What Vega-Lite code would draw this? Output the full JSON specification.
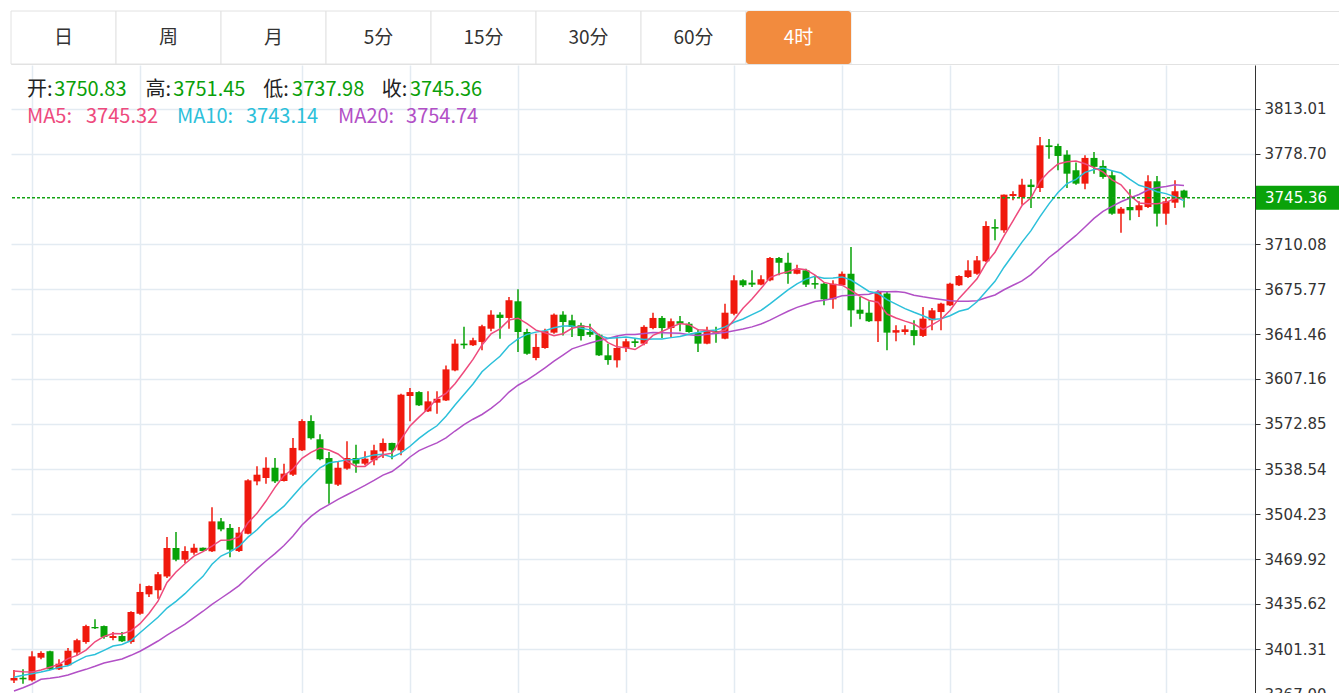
{
"$schema": "https://vega.github.io/schema/vega-lite/v6.json",
"background": "#ffffff",
"padding": {"left": 10, "top": 10, "right": 0, "bottom": 0},
"spacing": 0,
"config": {"view": {"stroke": null}},
"datasets": {
"k": [
{"i":0,"o":3377.3,"h":3385.3,"l":3375.4,"c":3379.2,"m5":3384.5,"m10":3379.7,"m20":3369.3},
{"i":1,"o":3379.4,"h":3385.8,"l":3374.8,"c":3378.2,"m5":3384.0,"m10":3381.3,"m20":3371.8},
{"i":2,"o":3377.4,"h":3399.6,"l":3376.6,"c":3395.7,"m5":3383.8,"m10":3382.5,"m20":3374.6},
{"i":3,"o":3394.7,"h":3399.6,"l":3393.5,"c":3398.3,"m5":3385.3,"m10":3383.8,"m20":3378.2},
{"i":4,"o":3399.6,"h":3400.0,"l":3385.3,"c":3385.8,"m5":3387.4,"m10":3385.3,"m20":3379.0},
{"i":5,"o":3385.8,"h":3393.5,"l":3385.3,"c":3390.1,"m5":3389.6,"m10":3387.3,"m20":3380.0},
{"i":6,"o":3388.9,"h":3402.1,"l":3388.3,"c":3400.0,"m5":3394.0,"m10":3388.6,"m20":3381.5},
{"i":7,"o":3398.6,"h":3409.2,"l":3396.6,"c":3408.0,"m5":3396.4,"m10":3392.2,"m20":3383.8},
{"i":8,"o":3406.6,"h":3419.8,"l":3405.3,"c":3418.8,"m5":3400.5,"m10":3395.7,"m20":3385.8},
{"i":9,"o":3418.1,"h":3424.0,"l":3416.5,"c":3417.1,"m5":3406.8,"m10":3397.1,"m20":3388.1},
{"i":10,"o":3418.8,"h":3419.3,"l":3409.2,"c":3410.5,"m5":3410.9,"m10":3400.3,"m20":3390.6},
{"i":11,"o":3409.7,"h":3414.3,"l":3408.0,"c":3411.2,"m5":3413.1,"m10":3403.6,"m20":3392.2},
{"i":12,"o":3411.2,"h":3414.3,"l":3406.6,"c":3407.2,"m5":3413.0,"m10":3404.7,"m20":3393.7},
{"i":13,"o":3406.6,"h":3430.0,"l":3405.3,"c":3429.5,"m5":3415.1,"m10":3407.8,"m20":3396.5},
{"i":14,"o":3428.2,"h":3451.1,"l":3427.5,"c":3444.8,"m5":3420.6,"m10":3413.7,"m20":3399.6},
{"i":15,"o":3443.0,"h":3449.8,"l":3441.0,"c":3449.3,"m5":3428.4,"m10":3419.6,"m20":3403.4},
{"i":16,"o":3446.1,"h":3460.0,"l":3439.7,"c":3458.3,"m5":3437.8,"m10":3425.5,"m20":3407.4},
{"i":17,"o":3456.6,"h":3486.7,"l":3455.4,"c":3478.3,"m5":3452.0,"m10":3432.5,"m20":3411.8},
{"i":18,"o":3478.3,"h":3490.5,"l":3468.2,"c":3469.4,"m5":3460.0,"m10":3437.6,"m20":3416.0},
{"i":19,"o":3469.4,"h":3479.6,"l":3466.9,"c":3476.0,"m5":3466.3,"m10":3443.5,"m20":3420.3},
{"i":20,"o":3474.7,"h":3481.6,"l":3473.2,"c":3478.5,"m5":3472.1,"m10":3450.3,"m20":3425.3},
{"i":21,"o":3478.5,"h":3478.6,"l":3475.8,"c":3476.0,"m5":3475.6,"m10":3456.7,"m20":3430.1},
{"i":22,"o":3475.8,"h":3509.3,"l":3475.3,"c":3498.6,"m5":3479.7,"m10":3465.9,"m20":3435.3},
{"i":23,"o":3498.6,"h":3501.2,"l":3491.0,"c":3492.5,"m5":3484.3,"m10":3472.2,"m20":3440.0},
{"i":24,"o":3493.6,"h":3496.6,"l":3471.2,"c":3477.0,"m5":3484.5,"m10":3475.4,"m20":3444.6},
{"i":25,"o":3476.0,"h":3494.3,"l":3475.3,"c":3490.0,"m5":3486.8,"m10":3479.5,"m20":3449.6},
{"i":26,"o":3489.2,"h":3530.7,"l":3488.8,"c":3529.9,"m5":3497.6,"m10":3486.6,"m20":3456.0},
{"i":27,"o":3529.1,"h":3540.6,"l":3526.1,"c":3534.2,"m5":3504.7,"m10":3492.2,"m20":3462.4},
{"i":28,"o":3531.7,"h":3547.5,"l":3527.3,"c":3539.5,"m5":3514.1,"m10":3499.2,"m20":3468.4},
{"i":29,"o":3539.5,"h":3546.9,"l":3527.9,"c":3529.1,"m5":3524.5,"m10":3504.5,"m20":3474.0},
{"i":30,"o":3529.4,"h":3542.6,"l":3529.0,"c":3535.0,"m5":3533.5,"m10":3510.2,"m20":3480.2},
{"i":31,"o":3534.2,"h":3562.2,"l":3533.2,"c":3554.6,"m5":3538.5,"m10":3518.0,"m20":3487.4},
{"i":32,"o":3552.8,"h":3576.4,"l":3552.3,"c":3575.1,"m5":3546.7,"m10":3525.7,"m20":3495.8},
{"i":33,"o":3575.1,"h":3579.5,"l":3561.0,"c":3562.0,"m5":3551.2,"m10":3532.6,"m20":3502.4},
{"i":34,"o":3561.2,"h":3565.0,"l":3545.2,"c":3546.0,"m5":3554.5,"m10":3539.5,"m20":3507.5},
{"i":35,"o":3546.9,"h":3551.5,"l":3512.1,"c":3527.3,"m5":3553.0,"m10":3543.3,"m20":3511.4},
{"i":36,"o":3526.6,"h":3543.9,"l":3525.6,"c":3539.5,"m5":3550.0,"m10":3544.2,"m20":3515.4},
{"i":37,"o":3538.8,"h":3559.7,"l":3538.0,"c":3546.9,"m5":3544.3,"m10":3545.5,"m20":3518.9},
{"i":38,"o":3546.9,"h":3557.1,"l":3535.7,"c":3542.6,"m5":3540.5,"m10":3545.8,"m20":3522.5},
{"i":39,"o":3542.6,"h":3552.0,"l":3541.4,"c":3546.4,"m5":3540.5,"m10":3547.5,"m20":3526.0},
{"i":40,"o":3545.2,"h":3557.1,"l":3541.4,"c":3552.8,"m5":3545.6,"m10":3549.3,"m20":3529.8},
{"i":41,"o":3552.0,"h":3561.7,"l":3546.9,"c":3558.4,"m5":3549.4,"m10":3549.7,"m20":3533.9},
{"i":42,"o":3558.4,"h":3558.6,"l":3545.9,"c":3552.8,"m5":3550.6,"m10":3547.5,"m20":3536.6},
{"i":43,"o":3552.8,"h":3596.0,"l":3549.0,"c":3595.2,"m5":3561.1,"m10":3550.8,"m20":3541.7},
{"i":44,"o":3594.2,"h":3600.3,"l":3574.9,"c":3597.2,"m5":3571.3,"m10":3555.9,"m20":3547.7},
{"i":45,"o":3597.2,"h":3597.8,"l":3586.6,"c":3587.1,"m5":3578.1,"m10":3561.9,"m20":3552.6},
{"i":46,"o":3582.5,"h":3597.8,"l":3582.0,"c":3590.1,"m5":3584.5,"m10":3567.0,"m20":3555.6},
{"i":47,"o":3589.1,"h":3597.8,"l":3580.7,"c":3592.1,"m5":3592.3,"m10":3571.5,"m20":3558.5},
{"i":48,"o":3590.8,"h":3617.5,"l":3590.4,"c":3614.5,"m5":3596.2,"m10":3578.7,"m20":3562.2},
{"i":49,"o":3613.7,"h":3637.4,"l":3613.0,"c":3634.1,"m5":3603.6,"m10":3587.4,"m20":3567.5},
{"i":50,"o":3634.1,"h":3646.9,"l":3630.3,"c":3632.9,"m5":3612.7,"m10":3595.4,"m20":3572.4},
{"i":51,"o":3632.9,"h":3638.6,"l":3632.3,"c":3636.7,"m5":3622.1,"m10":3603.3,"m20":3576.5},
{"i":52,"o":3635.4,"h":3648.6,"l":3629.0,"c":3647.4,"m5":3633.1,"m10":3612.7,"m20":3580.1},
{"i":53,"o":3645.5,"h":3659.5,"l":3643.6,"c":3656.2,"m5":3641.5,"m10":3618.8,"m20":3584.8},
{"i":54,"o":3656.2,"h":3658.0,"l":3637.9,"c":3653.7,"m5":3645.4,"m10":3624.5,"m20":3590.2},
{"i":55,"o":3653.7,"h":3669.7,"l":3645.5,"c":3667.2,"m5":3652.2,"m10":3632.5,"m20":3597.2},
{"i":56,"o":3666.4,"h":3675.5,"l":3627.7,"c":3643.0,"m5":3653.5,"m10":3637.8,"m20":3602.4},
{"i":57,"o":3643.0,"h":3645.5,"l":3625.7,"c":3626.4,"m5":3649.3,"m10":3641.2,"m20":3606.3},
{"i":58,"o":3623.2,"h":3641.7,"l":3621.4,"c":3631.6,"m5":3644.4,"m10":3642.9,"m20":3610.8},
{"i":59,"o":3630.8,"h":3645.5,"l":3630.3,"c":3643.6,"m5":3642.4,"m10":3643.9,"m20":3615.7},
{"i":60,"o":3642.5,"h":3657.0,"l":3641.7,"c":3656.2,"m5":3640.2,"m10":3646.2,"m20":3620.8},
{"i":61,"o":3656.2,"h":3658.8,"l":3640.4,"c":3650.6,"m5":3641.7,"m10":3647.6,"m20":3625.4},
{"i":62,"o":3651.9,"h":3656.2,"l":3639.1,"c":3646.8,"m5":3645.8,"m10":3647.5,"m20":3630.1},
{"i":63,"o":3648.1,"h":3650.1,"l":3636.6,"c":3639.9,"m5":3647.4,"m10":3645.9,"m20":3632.4},
{"i":64,"o":3643.0,"h":3649.3,"l":3639.1,"c":3640.9,"m5":3646.9,"m10":3644.6,"m20":3634.6},
{"i":65,"o":3640.9,"h":3641.7,"l":3624.7,"c":3625.2,"m5":3640.7,"m10":3640.4,"m20":3636.5},
{"i":66,"o":3625.2,"h":3634.0,"l":3618.0,"c":3621.6,"m5":3634.9,"m10":3638.3,"m20":3638.0},
{"i":67,"o":3621.4,"h":3640.0,"l":3616.0,"c":3630.8,"m5":3631.7,"m10":3638.7,"m20":3640.0},
{"i":68,"o":3630.8,"h":3637.9,"l":3627.7,"c":3635.9,"m5":3630.9,"m10":3639.2,"m20":3641.0},
{"i":69,"o":3635.9,"h":3638.4,"l":3631.6,"c":3634.6,"m5":3629.6,"m10":3638.3,"m20":3641.1},
{"i":70,"o":3634.1,"h":3648.1,"l":3632.9,"c":3646.9,"m5":3634.0,"m10":3637.3,"m20":3641.8},
{"i":71,"o":3646.0,"h":3657.7,"l":3645.0,"c":3653.7,"m5":3640.4,"m10":3637.6,"m20":3642.6},
{"i":72,"o":3653.7,"h":3655.2,"l":3638.4,"c":3646.0,"m5":3643.4,"m10":3637.6,"m20":3642.5},
{"i":73,"o":3646.0,"h":3653.2,"l":3639.1,"c":3651.2,"m5":3646.5,"m10":3638.7,"m20":3642.3},
{"i":74,"o":3651.2,"h":3655.2,"l":3643.6,"c":3649.3,"m5":3649.4,"m10":3639.5,"m20":3642.1},
{"i":75,"o":3649.3,"h":3650.6,"l":3642.5,"c":3643.0,"m5":3648.6,"m10":3641.3,"m20":3640.9},
{"i":76,"o":3642.5,"h":3645.0,"l":3627.7,"c":3634.1,"m5":3644.7,"m10":3642.6,"m20":3640.4},
{"i":77,"o":3634.1,"h":3646.9,"l":3633.6,"c":3644.4,"m5":3644.4,"m10":3643.9,"m20":3641.3},
{"i":78,"o":3643.6,"h":3646.9,"l":3634.8,"c":3642.5,"m5":3642.7,"m10":3644.6,"m20":3641.9},
{"i":79,"o":3637.9,"h":3664.6,"l":3637.4,"c":3657.7,"m5":3644.3,"m10":3646.9,"m20":3642.6},
{"i":80,"o":3656.9,"h":3686.2,"l":3655.7,"c":3682.4,"m5":3652.2,"m10":3650.4,"m20":3643.9},
{"i":81,"o":3682.4,"h":3683.2,"l":3677.3,"c":3678.6,"m5":3661.1,"m10":3652.9,"m20":3645.3},
{"i":82,"o":3680.6,"h":3690.0,"l":3677.3,"c":3679.1,"m5":3668.1,"m10":3656.2,"m20":3646.9},
{"i":83,"o":3679.1,"h":3686.2,"l":3678.6,"c":3683.2,"m5":3676.2,"m10":3659.4,"m20":3649.1},
{"i":84,"o":3682.4,"h":3700.2,"l":3681.6,"c":3699.4,"m5":3684.5,"m10":3664.4,"m20":3652.0},
{"i":85,"o":3699.4,"h":3700.2,"l":3686.2,"c":3695.8,"m5":3687.2,"m10":3669.7,"m20":3655.5},
{"i":86,"o":3695.8,"h":3703.5,"l":3679.8,"c":3687.4,"m5":3689.0,"m10":3675.1,"m20":3658.8},
{"i":87,"o":3687.4,"h":3694.2,"l":3687.0,"c":3690.7,"m5":3691.3,"m10":3679.7,"m20":3661.8},
{"i":88,"o":3690.0,"h":3691.2,"l":3677.3,"c":3679.1,"m5":3690.5,"m10":3683.3,"m20":3664.0},
{"i":89,"o":3680.3,"h":3686.2,"l":3676.0,"c":3679.1,"m5":3686.4,"m10":3685.5,"m20":3666.2},
{"i":90,"o":3679.8,"h":3680.6,"l":3663.3,"c":3667.9,"m5":3680.8,"m10":3684.0,"m20":3667.2},
{"i":91,"o":3667.9,"h":3682.4,"l":3660.7,"c":3679.8,"m5":3679.3,"m10":3684.2,"m20":3668.5},
{"i":92,"o":3678.6,"h":3689.2,"l":3678.1,"c":3687.4,"m5":3678.7,"m10":3685.0,"m20":3670.6},
{"i":93,"o":3687.4,"h":3707.8,"l":3646.9,"c":3659.5,"m5":3674.7,"m10":3682.6,"m20":3671.0},
{"i":94,"o":3660.0,"h":3669.7,"l":3652.7,"c":3656.9,"m5":3670.3,"m10":3678.4,"m20":3671.4},
{"i":95,"o":3657.7,"h":3666.4,"l":3650.6,"c":3651.2,"m5":3667.0,"m10":3673.9,"m20":3671.8},
{"i":96,"o":3651.2,"h":3674.8,"l":3635.4,"c":3673.5,"m5":3665.7,"m10":3672.5,"m20":3673.8},
{"i":97,"o":3672.3,"h":3673.5,"l":3629.0,"c":3642.5,"m5":3656.7,"m10":3667.7,"m20":3673.7},
{"i":98,"o":3642.5,"h":3648.1,"l":3635.9,"c":3644.4,"m5":3653.7,"m10":3664.2,"m20":3673.8},
{"i":99,"o":3643.0,"h":3648.1,"l":3640.9,"c":3645.0,"m5":3651.3,"m10":3660.8,"m20":3673.1},
{"i":100,"o":3644.4,"h":3651.9,"l":3632.9,"c":3640.0,"m5":3649.1,"m10":3658.0,"m20":3671.0},
{"i":101,"o":3640.0,"h":3662.1,"l":3639.1,"c":3653.2,"m5":3645.0,"m10":3655.4,"m20":3669.8},
{"i":102,"o":3651.9,"h":3661.3,"l":3644.4,"c":3659.5,"m5":3648.4,"m10":3652.6,"m20":3668.8},
{"i":103,"o":3658.2,"h":3665.3,"l":3644.4,"c":3664.6,"m5":3652.5,"m10":3653.1,"m20":3667.8},
{"i":104,"o":3663.3,"h":3680.6,"l":3662.8,"c":3679.8,"m5":3659.4,"m10":3655.4,"m20":3666.9},
{"i":105,"o":3678.6,"h":3686.2,"l":3678.1,"c":3685.7,"m5":3668.6,"m10":3658.8,"m20":3666.4},
{"i":106,"o":3684.9,"h":3697.6,"l":3684.2,"c":3690.0,"m5":3675.9,"m10":3660.5,"m20":3666.5},
{"i":107,"o":3687.4,"h":3700.9,"l":3686.7,"c":3697.6,"m5":3683.5,"m10":3666.0,"m20":3666.8},
{"i":108,"o":3696.9,"h":3727.4,"l":3696.4,"c":3723.8,"m5":3695.4,"m10":3673.9,"m20":3669.1},
{"i":109,"o":3723.0,"h":3728.9,"l":3712.9,"c":3721.8,"m5":3703.8,"m10":3681.6,"m20":3671.2},
{"i":110,"o":3720.5,"h":3747.9,"l":3718.7,"c":3747.7,"m5":3716.2,"m10":3692.4,"m20":3675.2},
{"i":111,"o":3746.7,"h":3750.3,"l":3743.4,"c":3748.2,"m5":3727.8,"m10":3701.9,"m20":3678.6},
{"i":112,"o":3745.9,"h":3759.9,"l":3740.0,"c":3755.3,"m5":3739.4,"m10":3711.5,"m20":3682.0},
{"i":113,"o":3755.3,"h":3759.4,"l":3737.5,"c":3753.5,"m5":3745.3,"m10":3720.3,"m20":3686.7},
{"i":114,"o":3752.8,"h":3791.7,"l":3749.7,"c":3785.3,"m5":3758.0,"m10":3730.9,"m20":3693.1},
{"i":115,"o":3785.3,"h":3790.2,"l":3775.1,"c":3784.0,"m5":3765.3,"m10":3740.7,"m20":3699.8},
{"i":116,"o":3784.8,"h":3786.6,"l":3766.3,"c":3777.2,"m5":3771.1,"m10":3749.4,"m20":3705.0},
{"i":117,"o":3778.2,"h":3781.5,"l":3752.8,"c":3763.7,"m5":3772.7,"m10":3756.1,"m20":3711.0},
{"i":118,"o":3766.3,"h":3772.3,"l":3755.3,"c":3756.1,"m5":3773.3,"m10":3759.3,"m20":3716.6},
{"i":119,"o":3756.1,"h":3777.7,"l":3751.8,"c":3775.7,"m5":3771.3,"m10":3764.7,"m20":3723.1},
{"i":120,"o":3775.7,"h":3780.2,"l":3763.7,"c":3768.9,"m5":3768.3,"m10":3766.8,"m20":3729.6},
{"i":121,"o":3769.6,"h":3774.0,"l":3759.9,"c":3761.2,"m5":3765.1,"m10":3768.1,"m20":3735.0},
{"i":122,"o":3762.5,"h":3766.3,"l":3732.4,"c":3733.2,"m5":3759.0,"m10":3765.9,"m20":3738.7},
{"i":123,"o":3733.2,"h":3738.3,"l":3718.7,"c":3737.0,"m5":3755.2,"m10":3764.2,"m20":3742.3},
{"i":124,"o":3738.3,"h":3751.8,"l":3728.2,"c":3735.8,"m5":3747.2,"m10":3759.3,"m20":3745.1},
{"i":125,"o":3735.8,"h":3742.6,"l":3730.6,"c":3739.6,"m5":3741.4,"m10":3754.8,"m20":3747.8},
{"i":126,"o":3738.3,"h":3762.5,"l":3737.5,"c":3757.9,"m5":3740.7,"m10":3752.9,"m20":3751.2},
{"i":127,"o":3757.9,"h":3762.0,"l":3723.5,"c":3733.2,"m5":3740.7,"m10":3749.9,"m20":3753.0},
{"i":128,"o":3733.2,"h":3745.2,"l":3724.8,"c":3742.6,"m5":3741.8,"m10":3748.5,"m20":3753.9},
{"i":129,"o":3741.6,"h":3758.7,"l":3737.5,"c":3750.3,"m5":3744.7,"m10":3746.0,"m20":3755.3},
{"i":130,"o":3750.83,"h":3751.45,"l":3737.98,"c":3745.36,"m5":3745.32,"m10":3743.14,"m20":3754.74}
]
},
"vconcat": [
{
"width": 1329, "height": 53,
"view": {"stroke": "#e2e2e2", "strokeWidth": 1},
"data": {"values": [
{"b":"日","on":false},{"b":"周","on":false},{"b":"月","on":false},{"b":"5分","on":false},
{"b":"15分","on":false},{"b":"30分","on":false},{"b":"60分","on":false},{"b":"4时","on":true}
]},
"encoding": {"x": {"field": "b", "type": "nominal", "sort": null,
  "scale": {"domain": ["日","周","月","5分","15分","30分","60分","4时","_1","_2","_3","_4"], "paddingInner": 0, "paddingOuter": 0.3285, "align": 0},
  "axis": null}},
"layer": [
{"mark": {"type": "rect", "fill": "#ffffff", "stroke": "#e2e2e2", "strokeWidth": 1}},
{"transform": [{"filter": "datum.on"}], "mark": {"type": "rect", "fill": "#f28b3e", "cornerRadius": 3}},
{"mark": {"type": "text", "font": "Noto Sans CJK SC", "fontSize": 19, "baseline": "middle"},
 "encoding": {"text": {"field": "b"}, "color": {"condition": {"test": "datum.on", "value": "#ffffff"}, "value": "#333333"}}}
]
},
{
"width": 1244, "height": 630,
"data": {"name": "k"},
"layer": [
{"mark": {"type": "rule", "strokeWidth": 1.5},
 "encoding": {
  "x": {"field": "i", "type": "quantitative", "scale": {"domain": [-0.3333, 137.889], "nice": false, "zero": false},
        "axis": {"orient": "bottom", "values": [2,14,32,44,56,68,80,92,104,116,128], "grid": true, "gridColor": "#e3ebf2", "gridWidth": 1.5, "labels": false, "ticks": false, "domain": false, "title": null}},
  "y": {"field": "l", "type": "quantitative", "scale": {"domain": [3366.24, 3846.55], "nice": false, "zero": false},
        "axis": {"orient": "right", "values": [3367,3401.31,3435.62,3469.92,3504.23,3538.54,3572.85,3607.16,3641.46,3675.77,3710.08,3778.70,3813.01], "format": ".2f", "grid": true, "gridColor": "#e3ebf2", "gridWidth": 1.5, "domain": true, "domainColor": "#333333", "domainWidth": 1, "ticks": true, "tickColor": "#333333", "tickSize": 5, "tickWidth": 1, "labelFont": "DejaVu Sans", "labelFontSize": 15, "labelColor": "#333333", "labelPadding": 4, "labelOverlap": false, "labelFlush": false, "title": null}},
  "y2": {"field": "h"},
  "color": {"condition": {"test": "datum.c >= datum.o", "value": "#f0190d"}, "value": "#07a207"}
 }},
{"mark": {"type": "rule", "strokeWidth": 7, "strokeCap": "butt"},
 "encoding": {
  "x": {"field": "i", "type": "quantitative"},
  "y": {"field": "o", "type": "quantitative"},
  "y2": {"field": "c"},
  "color": {"condition": {"test": "datum.c >= datum.o", "value": "#f0190d"}, "value": "#07a207"}
 }},
{"mark": {"type": "line", "strokeWidth": 1.5, "color": "#b250c6"},
 "encoding": {"x": {"field": "i", "type": "quantitative"}, "y": {"field": "m20", "type": "quantitative"}}},
{"mark": {"type": "line", "strokeWidth": 1.5, "color": "#2cc0da"},
 "encoding": {"x": {"field": "i", "type": "quantitative"}, "y": {"field": "m10", "type": "quantitative"}}},
{"mark": {"type": "line", "strokeWidth": 1.5, "color": "#ee4a7d"},
 "encoding": {"x": {"field": "i", "type": "quantitative"}, "y": {"field": "m5", "type": "quantitative"}}},
{"transform": [{"filter": "datum.i == 130"}],
 "mark": {"type": "rule", "strokeWidth": 1.5, "strokeDash": [3, 2], "color": "#13a313"},
 "encoding": {"y": {"field": "c", "type": "quantitative"}}},
{"transform": [{"filter": "datum.i == 130"}],
 "mark": {"type": "rect", "color": "#0aa20a", "yOffset": -12, "y2Offset": 12},
 "encoding": {
  "x": {"datum": 138.0, "type": "quantitative"},
  "x2": {"datum": 147.3},
  "y": {"field": "c", "type": "quantitative"},
  "y2": {"field": "c"}
 }},
{"transform": [{"filter": "datum.i == 130"}],
 "mark": {"type": "text", "align": "left", "baseline": "middle", "font": "DejaVu Sans", "fontSize": 15, "color": "#ffffff"},
 "encoding": {
  "x": {"datum": 139.0, "type": "quantitative"},
  "y": {"field": "c", "type": "quantitative"},
  "text": {"field": "c", "type": "quantitative", "format": ".2f"}
 }},
{"transform": [{"filter": "datum.i == 130"}],
 "mark": {"type": "text", "align": "left", "baseline": "middle", "font": "Noto Sans CJK SC", "fontSize": 20, "color": "#222222"},
 "encoding": {"x": {"datum": 1.44, "type": "quantitative"}, "y": {"datum": 3827.5, "type": "quantitative"}, "text": {"value": "开:"}}},
{"transform": [{"filter": "datum.i == 130"}],
 "mark": {"type": "text", "align": "left", "baseline": "middle", "font": "Noto Sans CJK SC", "fontSize": 20, "color": "#0a9f0a"},
 "encoding": {"x": {"datum": 4.48, "type": "quantitative"}, "y": {"datum": 3827.5, "type": "quantitative"}, "text": {"field": "o", "type": "quantitative", "format": ".2f"}}},
{"transform": [{"filter": "datum.i == 130"}],
 "mark": {"type": "text", "align": "left", "baseline": "middle", "font": "Noto Sans CJK SC", "fontSize": 20, "color": "#222222"},
 "encoding": {"x": {"datum": 14.6, "type": "quantitative"}, "y": {"datum": 3827.5, "type": "quantitative"}, "text": {"value": "高:"}}},
{"transform": [{"filter": "datum.i == 130"}],
 "mark": {"type": "text", "align": "left", "baseline": "middle", "font": "Noto Sans CJK SC", "fontSize": 20, "color": "#0a9f0a"},
 "encoding": {"x": {"datum": 17.7, "type": "quantitative"}, "y": {"datum": 3827.5, "type": "quantitative"}, "text": {"field": "h", "type": "quantitative", "format": ".2f"}}},
{"transform": [{"filter": "datum.i == 130"}],
 "mark": {"type": "text", "align": "left", "baseline": "middle", "font": "Noto Sans CJK SC", "fontSize": 20, "color": "#222222"},
 "encoding": {"x": {"datum": 27.7, "type": "quantitative"}, "y": {"datum": 3827.5, "type": "quantitative"}, "text": {"value": "低:"}}},
{"transform": [{"filter": "datum.i == 130"}],
 "mark": {"type": "text", "align": "left", "baseline": "middle", "font": "Noto Sans CJK SC", "fontSize": 20, "color": "#0a9f0a"},
 "encoding": {"x": {"datum": 30.9, "type": "quantitative"}, "y": {"datum": 3827.5, "type": "quantitative"}, "text": {"field": "l", "type": "quantitative", "format": ".2f"}}},
{"transform": [{"filter": "datum.i == 130"}],
 "mark": {"type": "text", "align": "left", "baseline": "middle", "font": "Noto Sans CJK SC", "fontSize": 20, "color": "#222222"},
 "encoding": {"x": {"datum": 40.86, "type": "quantitative"}, "y": {"datum": 3827.5, "type": "quantitative"}, "text": {"value": "收:"}}},
{"transform": [{"filter": "datum.i == 130"}],
 "mark": {"type": "text", "align": "left", "baseline": "middle", "font": "Noto Sans CJK SC", "fontSize": 20, "color": "#0a9f0a"},
 "encoding": {"x": {"datum": 44.0, "type": "quantitative"}, "y": {"datum": 3827.5, "type": "quantitative"}, "text": {"field": "c", "type": "quantitative", "format": ".2f"}}},
{"transform": [{"filter": "datum.i == 130"}],
 "mark": {"type": "text", "align": "left", "baseline": "middle", "font": "Noto Sans CJK SC", "fontSize": 20, "color": "#ee4a7d"},
 "encoding": {"x": {"datum": 1.44, "type": "quantitative"}, "y": {"datum": 3806.9, "type": "quantitative"}, "text": {"value": "MA5:"}}},
{"transform": [{"filter": "datum.i == 130"}],
 "mark": {"type": "text", "align": "left", "baseline": "middle", "font": "Noto Sans CJK SC", "fontSize": 20, "color": "#ee4a7d"},
 "encoding": {"x": {"datum": 8.0, "type": "quantitative"}, "y": {"datum": 3806.9, "type": "quantitative"}, "text": {"field": "m5", "type": "quantitative", "format": ".2f"}}},
{"transform": [{"filter": "datum.i == 130"}],
 "mark": {"type": "text", "align": "left", "baseline": "middle", "font": "Noto Sans CJK SC", "fontSize": 20, "color": "#2cc0da"},
 "encoding": {"x": {"datum": 18.1, "type": "quantitative"}, "y": {"datum": 3806.9, "type": "quantitative"}, "text": {"value": "MA10:"}}},
{"transform": [{"filter": "datum.i == 130"}],
 "mark": {"type": "text", "align": "left", "baseline": "middle", "font": "Noto Sans CJK SC", "fontSize": 20, "color": "#2cc0da"},
 "encoding": {"x": {"datum": 25.78, "type": "quantitative"}, "y": {"datum": 3806.9, "type": "quantitative"}, "text": {"field": "m10", "type": "quantitative", "format": ".2f"}}},
{"transform": [{"filter": "datum.i == 130"}],
 "mark": {"type": "text", "align": "left", "baseline": "middle", "font": "Noto Sans CJK SC", "fontSize": 20, "color": "#b250c6"},
 "encoding": {"x": {"datum": 36.0, "type": "quantitative"}, "y": {"datum": 3806.9, "type": "quantitative"}, "text": {"value": "MA20:"}}},
{"transform": [{"filter": "datum.i == 130"}],
 "mark": {"type": "text", "align": "left", "baseline": "middle", "font": "Noto Sans CJK SC", "fontSize": 20, "color": "#b250c6"},
 "encoding": {"x": {"datum": 43.56, "type": "quantitative"}, "y": {"datum": 3806.9, "type": "quantitative"}, "text": {"field": "m20", "type": "quantitative", "format": ".2f"}}}
]
}
]
}
